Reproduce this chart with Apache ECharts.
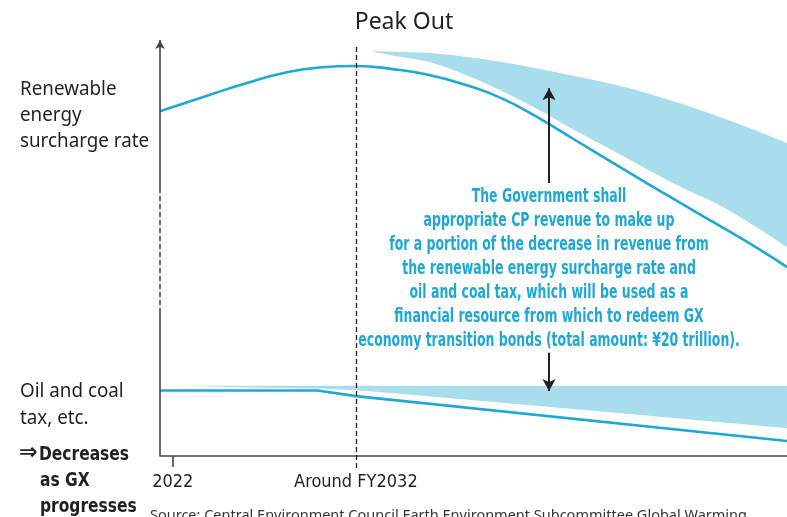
<!DOCTYPE html>
<html>
<head>
<meta charset="utf-8">
<title>Peak Out</title>
<script src="https://cdn.jsdelivr.net/npm/echarts@6/dist/echarts.min.js"></script>
<style>
  html, body { margin: 0; padding: 0; background: #fff; }
  #chart { width: 787px; height: 517px; }
</style>
</head>
<body>
<div id="chart"></div>
<script>
// Schematic index (0 = baseline, 100 = top of the frame) against fiscal year.

// Renewable energy surcharge rate
const surchargeYears  = [2021.3, 2022, 2024, 2026, 2028, 2030, 2032, 2034, 2036, 2038, 2040, 2042, 2044, 2046, 2048, 2050, 2052, 2054, 2055.55];
const surchargeValues = [82.9, 83.9, 86.8, 89.6, 92.0, 93.4, 93.75, 93.0, 91.6, 89.2, 85.9, 81.2, 75.9, 70.6, 65.3, 60.1, 55.0, 49.8, 45.4];

// Revenue gap above the surcharge curve (lower and upper edges of the band)
const surchargeGapYears = [2032.8, 2034, 2036, 2038, 2040, 2042, 2044, 2046, 2048, 2050, 2052, 2054, 2055.55];
const surchargeGapLow   = [97.3, 96.3, 94.7, 91.6, 87.7, 83.2, 78.2, 73.5, 68.7, 64.1, 60.0, 54.7, 50.2];
const surchargeGapHigh  = [97.3, 97.2, 96.9, 96.0, 94.7, 93.1, 91.3, 89.4, 87.1, 84.4, 81.3, 78.0, 75.2];

// Oil and coal tax, etc.
const oilYears  = [2021.3, 2029.9, 2032, 2055.55];
const oilValues = [15.75, 15.75, 14.4, 3.6];

// Revenue gap above the oil and coal tax line
const oilGapYears = [2022.4, 2026, 2030, 2032, 2033.3, 2040, 2048, 2055.55];
const oilGapLow   = [16.9, 16.5, 16.2, 15.8, 15.4, 12.8, 9.65, 6.7];
const oilGapHigh  = [16.9, 16.9, 16.9, 16.9, 16.9, 16.9, 16.9, 16.9];

// Axis labels
const tickYears = [2022];
const labelYears = [2022, 2032];
const labelText = { 2022: '2022', 2032: 'Around FY2032' };
const peakYear = 2032;
const pointerYear = 2042.55;
const xMin = 2021.3, xMax = 2055.55;
const yMin = -3, yMax = 100;

const CYAN = '#1fa7d6';
const BAND = '#a8deeb';
const INK = '#231f20';
const AXIS = '#444';
const CONDENSED = "'DejaVu Sans Condensed', 'Liberation Sans Narrow', sans-serif";
const HUMANIST = "'Noto Sans', sans-serif";

const pairs = (xs, ys) => xs.map((x, i) => [x, ys[i]]);
const rows = (xs, lo, hi) => xs.map((x, i) => [x, lo[i], hi[i]]);

// Catmull-Rom spline through pixel points, as cubic segments (path continues from pts[0]).
function splineSegments(pts) {
  let d = '';
  const n = pts.length;
  for (let i = 0; i < n - 1; i++) {
    const p0 = pts[Math.max(i - 1, 0)], p1 = pts[i], p2 = pts[i + 1], p3 = pts[Math.min(i + 2, n - 1)];
    const c1 = [p1[0] + (p2[0] - p0[0]) / 6, p1[1] + (p2[1] - p0[1]) / 6];
    const c2 = [p2[0] - (p3[0] - p1[0]) / 6, p2[1] - (p3[1] - p1[1]) / 6];
    d += ` C ${c1[0]} ${c1[1]} ${c2[0]} ${c2[1]} ${p2[0]} ${p2[1]}`;
  }
  return d;
}

// Fill the area between two edges, placed through the axes.
function bandRenderer(curved) {
  return function (params, api) {
    if (params.dataIndex !== 0) return null;
    const n = params.dataInsideLength;
    const upper = [], lower = [];
    for (let i = 0; i < n; i++) {
      upper.push(api.coord([api.value(0, i), api.value(2, i)]));
      lower.push(api.coord([api.value(0, i), api.value(1, i)]));
    }
    lower.reverse();
    let d;
    if (curved) {
      d = `M ${upper[0][0]} ${upper[0][1]}` + splineSegments(upper) +
          ` L ${lower[0][0]} ${lower[0][1]}` + splineSegments(lower) + ' Z';
    } else {
      d = 'M ' + upper.concat(lower).map(p => `${p[0]} ${p[1]}`).join(' L ') + ' Z';
    }
    return { type: 'path', shape: { pathData: d }, style: { fill: BAND } };
  };
}

const chart = echarts.init(document.getElementById('chart'), null, { renderer: 'canvas' });

const option = {
  animation: false,
  backgroundColor: '#fff',
  grid: { left: 160, right: 0, top: 40, bottom: 48.5, containLabel: false },
  xAxis: {
    type: 'value', min: xMin, max: xMax,
    splitLine: { show: false },
    axisLine: { show: true, onZero: true, lineStyle: { color: AXIS, width: 1.6 } },
    axisTick: { show: true, customValues: tickYears, length: 11, lineStyle: { color: AXIS, width: 1.6 } },
    axisLabel: {
      customValues: labelYears, margin: 5,
      fontFamily: CONDENSED, fontSize: 18, color: INK,
      formatter: v => labelText[Math.round(v)] || ''
    }
  },
  yAxis: {
    type: 'value', min: yMin, max: yMax,
    axisLine: { show: false }, axisTick: { show: false },
    axisLabel: { show: false }, splitLine: { show: false }
  },
  series: [
    { type: 'custom', name: 'Surcharge revenue gap', renderItem: bandRenderer(true),
      data: rows(surchargeGapYears, surchargeGapLow, surchargeGapHigh),
      encode: { x: 0, y: [1, 2] }, clip: true, silent: true, z: 1 },
    { type: 'custom', name: 'Oil and coal tax revenue gap', renderItem: bandRenderer(false),
      data: rows(oilGapYears, oilGapLow, oilGapHigh),
      encode: { x: 0, y: [1, 2] }, clip: true, silent: true, z: 1 },
    { type: 'line', name: 'Renewable energy surcharge rate', data: pairs(surchargeYears, surchargeValues),
      symbol: 'none', smooth: 0.5, clip: false, z: 3,
      lineStyle: { color: CYAN, width: 2.6 },
      markLine: {
        silent: true, symbol: 'none', label: { show: false }, animation: false, z: 4,
        data: [
          // "Peak Out" guide
          [{ coord: [peakYear, 98.3], lineStyle: { color: INK, type: [5, 3], width: 1.3 } },
           { coord: [peakYear, -2.9] }],
          // y axis: solid / broken / solid with arrow
          [{ coord: [xMin, 0], lineStyle: { color: AXIS, width: 1.6, type: 'solid' } }, { coord: [xMin, 34.4] }],
          [{ coord: [xMin, 34.4], lineStyle: { color: AXIS, width: 1.6, type: [5, 3] } }, { coord: [xMin, 64.4] }],
          [{ coord: [xMin, 64.4], symbol: 'none', lineStyle: { color: AXIS, width: 1.6, type: 'solid' } },
           { coord: [xMin, 100], symbol: 'arrow', symbolSize: [7, 9] }],
          // revenue-gap pointers
          [{ coord: [pointerYear, 65.6], symbol: 'none', lineStyle: { color: INK, width: 2, type: 'solid' } },
           { coord: [pointerYear, 88.4], symbol: 'arrow', symbolSize: [10, 12] }],
          [{ coord: [pointerYear, 24.8], symbol: 'none', lineStyle: { color: INK, width: 2, type: 'solid' } },
           { coord: [pointerYear, 15.6], symbol: 'arrow', symbolSize: [10, 12] }]
        ]
      } },
    { type: 'line', name: 'Oil and coal tax, etc.', data: pairs(oilYears, oilValues),
      symbol: 'none', clip: false, z: 3,
      lineStyle: { color: CYAN, width: 2.6 } }
  ],
  graphic: [
    { type: 'text', x: 404, y: 22,
      style: { text: 'Peak Out', fontFamily: HUMANIST, fontSize: 23, fill: INK, align: 'center', verticalAlign: 'middle' } },
    { type: 'text', x: 20, y: 76, scaleX: 0.94,
      style: { text: 'Renewable\nenergy\nsurcharge rate', fontFamily: HUMANIST,
               fontSize: 20, lineHeight: 26, fill: INK } },
    { type: 'text', x: 20, y: 378, scaleX: 0.94,
      style: { text: 'Oil and coal\ntax, etc.', fontFamily: HUMANIST,
               fontSize: 20, lineHeight: 27, fill: INK } },
    { type: 'text', x: 19, y: 453,
      style: { text: '⇒', fontFamily: "'DejaVu Sans', sans-serif",
               fontSize: 22, fontWeight: 'bold', fill: INK, verticalAlign: 'middle' } },
    { type: 'text', x: 39, y: 445, scaleX: 0.86,
      style: { text: 'Decreases', fontFamily: CONDENSED,
               fontSize: 20, fontWeight: 'bold', fill: INK } },
    { type: 'text', x: 40, y: 467.5, scaleX: 0.86,
      style: { text: 'as GX\nprogresses', fontFamily: CONDENSED,
               fontSize: 20, fontWeight: 'bold', lineHeight: 26.5, fill: INK } },
    { type: 'text', x: 549, y: 185, scaleX: 0.73, z: 10,
      style: {
        text: 'The Government shall\nappropriate CP revenue to make up\nfor a portion of the decrease in revenue from\nthe renewable energy surcharge rate and\noil and coal tax, which will be used as a\nfinancial resource from which to redeem GX\neconomy transition bonds (total amount: ¥20 trillion).',
        fontFamily: CONDENSED, fontSize: 19, fontWeight: 'bold', lineHeight: 24,
        fill: CYAN, align: 'center', verticalAlign: 'top'
      } },
    { type: 'text', x: 150, y: 508,
      style: { text: 'Source: Central Environment Council Earth Environment Subcommittee Global Warming',
               fontFamily: HUMANIST, fontSize: 14.5, fill: '#333' } }
  ]
};

chart.setOption(option);
</script>
</body>
</html>
